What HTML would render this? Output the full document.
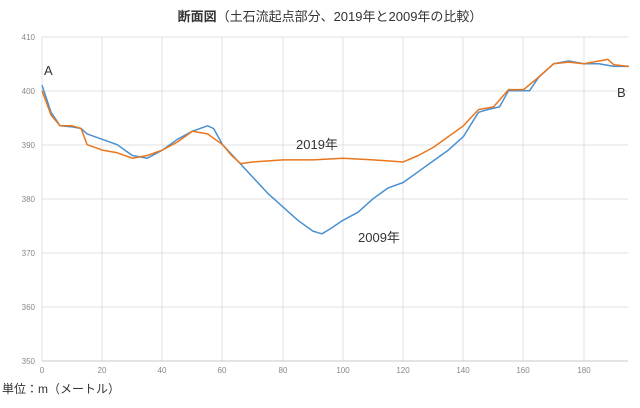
<!DOCTYPE html>
<html><head><meta charset="utf-8"><style>
body{margin:0;background:#fff;width:640px;height:403px;overflow:hidden}
text{font-family:"Liberation Sans","Noto Sans CJK JP",sans-serif}
</style></head><body>
<svg width="640" height="403" viewBox="0 0 640 403">
<rect width="640" height="403" fill="#fff"/>
<text x="330" y="21" font-size="13" text-anchor="middle" fill="#333"><tspan font-weight="bold">断面図</tspan>（土石流起点部分、2019年と2009年の比較）</text>
<g stroke="#e0e0e0" stroke-width="1">
<line x1="42" y1="37" x2="628" y2="37"/><line x1="42" y1="91" x2="628" y2="91"/>
<line x1="42" y1="145" x2="628" y2="145"/><line x1="42" y1="199" x2="628" y2="199"/>
<line x1="42" y1="253" x2="628" y2="253"/><line x1="42" y1="307" x2="628" y2="307"/>
<line x1="102" y1="37" x2="102" y2="361"/><line x1="162" y1="37" x2="162" y2="361"/>
<line x1="222" y1="37" x2="222" y2="361"/><line x1="283" y1="37" x2="283" y2="361"/>
<line x1="343" y1="37" x2="343" y2="361"/><line x1="403" y1="37" x2="403" y2="361"/>
<line x1="463" y1="37" x2="463" y2="361"/><line x1="523" y1="37" x2="523" y2="361"/>
<line x1="584" y1="37" x2="584" y2="361"/>
<line x1="42" y1="37" x2="42" y2="361"/>
<line x1="42" y1="361" x2="628" y2="361" stroke="#c8c8c8"/>
</g>
<g font-size="8" fill="#888" text-anchor="end">
<text x="35" y="40">410</text><text x="35" y="94">400</text><text x="35" y="148">390</text>
<text x="35" y="202">380</text><text x="35" y="256">370</text><text x="35" y="310">360</text><text x="35" y="364">350</text>
</g>
<g font-size="8" fill="#888" text-anchor="middle">
<text x="42" y="373">0</text><text x="102" y="373">20</text><text x="162" y="373">40</text><text x="222" y="373">60</text>
<text x="283" y="373">80</text><text x="343" y="373">100</text><text x="403" y="373">120</text><text x="463" y="373">140</text>
<text x="523" y="373">160</text><text x="584" y="373">180</text>
</g>
<g transform="matrix(3.01 0 0 -5.4 42 2250.7)" fill="none" stroke-width="1.5" stroke-linejoin="round">
<polyline vector-effect="non-scaling-stroke" stroke="#4a90d0" points="0,401 3,396 6,393.5 10,393.3 13,393 15,392 20,391 25,390 30,388 35,387.5 40,389 45,391 50,392.5 55,393.5 57,393 60,390 65,387 70,384 75,381 80,378.5 85,376 90,374 93,373.5 96,374.5 100,376 105,377.5 110,380 115,382 120,383 125,385 130,387 135,389 140,391.5 145,396 148,396.5 152,397 155,400 158,400 162,400 165,402.5 170,405 175,405.5 180,405 185,405 190,404.5 195,404.5"/>
<polyline vector-effect="non-scaling-stroke" stroke="#e8761e" points="0,400 3,395.5 6,393.5 10,393.5 13,393 15,390 20,389 25,388.5 30,387.5 35,388 40,389 45,390.5 50,392.5 55,392 60,390 63,388 66,386.5 70,386.8 80,387.2 90,387.2 100,387.5 110,387.2 120,386.8 125,388 130,389.5 135,391.5 140,393.5 145,396.5 150,397 155,400.2 160,400.2 165,402.5 170,405 175,405.3 180,405 185,405.5 188,405.8 190,404.8 195,404.5"/>
</g>
<g font-size="13" fill="#333">
<text x="44" y="75">A</text><text x="617" y="97">B</text>
<text x="296" y="149">2019年</text><text x="358" y="242">2009年</text>
</g>
<text x="2" y="393" font-size="12" fill="#333">単位：m（メートル）</text>
</svg>
</body></html>
